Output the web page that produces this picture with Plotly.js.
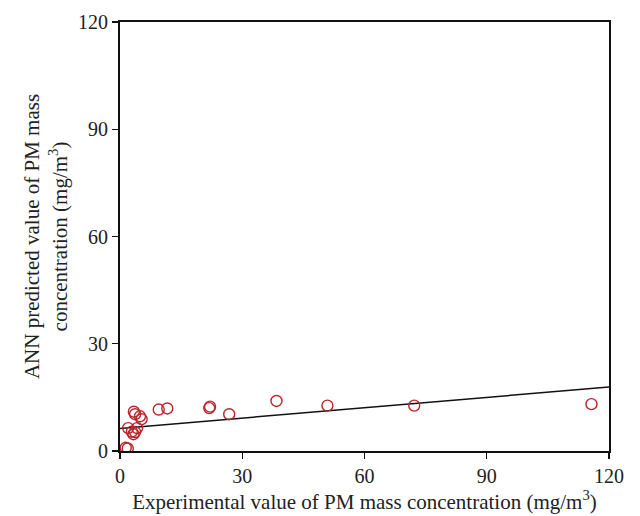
<!DOCTYPE html>
<html>
<head>
<meta charset="utf-8">
<script src="https://cdn.plot.ly/plotly-3.0.1.min.js"></script>
<style>html,body{margin:0;padding:0;background:#fff;}#chart{width:640px;height:516px;}</style>
</head>
<body>
<div id="chart"></div>
<script>
// Experimental vs ANN predicted PM mass concentration (mg/m3)
const experimental = [1.4, 1.9, 2.0, 2.9, 3.3, 3.7, 4.2, 3.4, 3.7, 4.9, 5.3, 9.5, 11.6, 21.9, 22.1, 26.8, 38.4, 50.9, 72.2, 115.7];
const predicted    = [0.9, 0.7, 6.4, 5.4, 4.7, 5.3, 6.4, 11.0, 10.3, 9.7, 8.9, 11.6, 11.9, 12.0, 12.4, 10.3, 14.0, 12.7, 12.7, 13.1];
// Linear fit line
const fitX = [0, 120];
const fitY = [6.3, 17.9];
const tickVals = [0, 30, 60, 90, 120];

const tickFont = {family: '"Liberation Serif", "DejaVu Serif", serif', size: 20, color: '#222'};
const titleFont = {family: '"Liberation Serif", "DejaVu Serif", serif', size: 21, color: '#222'};

const traces = [
  {x: fitX, y: fitY, mode: 'lines', type: 'scatter', line: {color: '#111', width: 1.5}, hoverinfo: 'skip'},
  {x: experimental, y: predicted, mode: 'markers', type: 'scatter',
   marker: {symbol: 'circle-open', size: 11, color: '#b8262b', line: {width: 1.4, color: '#b8262b'}}}
];

const axisCommon = {
  range: [0, 120], tickvals: tickVals, ticks: 'outside', ticklen: 6, tickwidth: 1.2, tickcolor: '#111',
  showline: true, linecolor: '#111', linewidth: 2, mirror: true, showgrid: false, zeroline: false,
  tickfont: tickFont
};

const layout = {
  width: 640, height: 516,
  margin: {l: 120, r: 31, t: 22, b: 65},
  paper_bgcolor: '#fff', plot_bgcolor: '#fff',
  showlegend: false,
  font: tickFont,
  xaxis: Object.assign({}, axisCommon, {
    title: {text: 'Experimental value of PM mass concentration (mg/m<sup>3</sup>)', font: titleFont, standoff: 2}
  }),
  yaxis: Object.assign({}, axisCommon, {
    title: {text: 'ANN predicted value of PM mass<br>concentration (mg/m<sup>3</sup>)', font: titleFont, standoff: 5}
  })
};

Plotly.newPlot('chart', traces, layout, {displayModeBar: false, staticPlot: true});
</script>
</body>
</html>
